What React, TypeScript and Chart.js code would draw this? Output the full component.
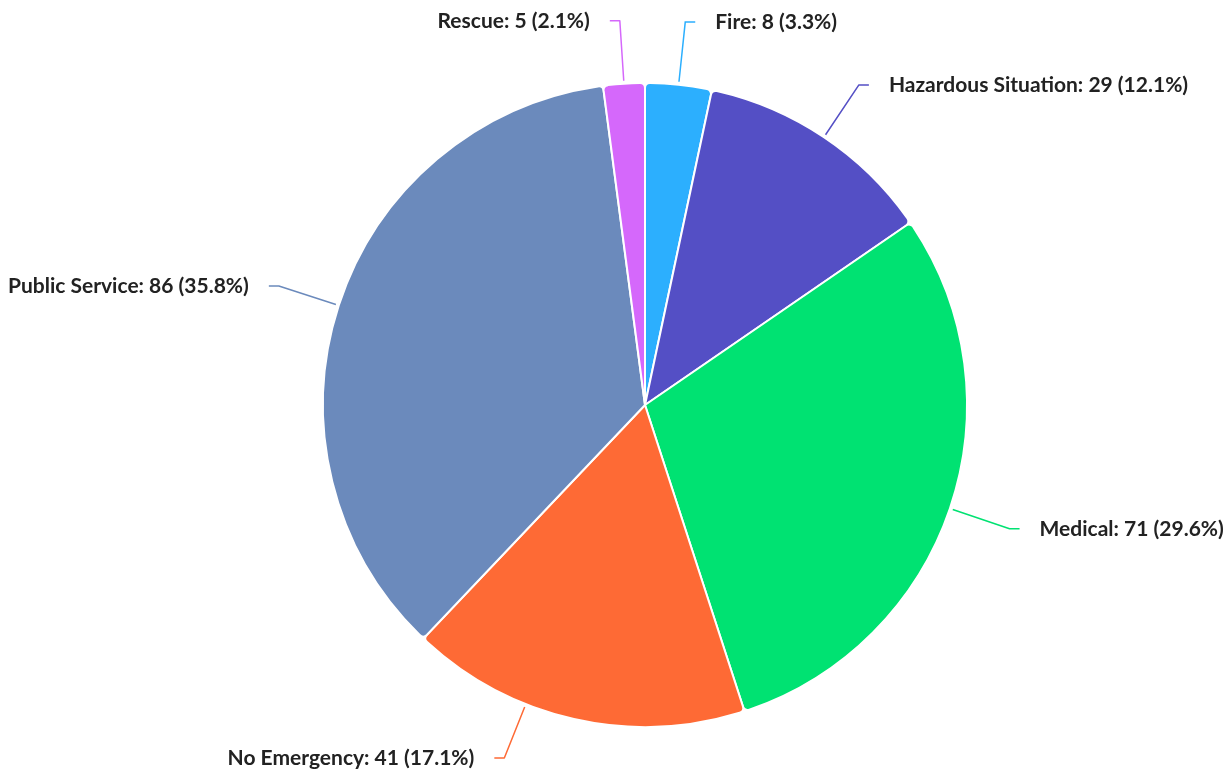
import React, { useEffect, useRef } from "react";
import { Chart, registerables } from "chart.js";

Chart.register(...registerables);

const categories = ["Fire", "Hazardous Situation", "Medical", "No Emergency", "Public Service", "Rescue"];
const values = [8, 29, 71, 41, 86, 5];
const colors = ["#2caffe", "#544fc5", "#00e272", "#fe6a35", "#6b8abc", "#d568fb"];

const W = 1220;
const H = 766;

const labelPlugin = {
  id: "pieLabels",
  afterDatasetsDraw(chart: any) {
    const ctx = chart.ctx as CanvasRenderingContext2D;
    const meta = chart.getDatasetMeta(0);
    const data = chart.data.datasets[0].data as number[];
    const total = data.reduce((a, b) => a + b, 0);
    ctx.save();
    meta.data.forEach((arc: any, i: number) => {
      const { x, y, startAngle, endAngle, outerRadius } = arc.getProps(
        ["x", "y", "startAngle", "endAngle", "outerRadius"],
        true
      );
      const mid = (startAngle + endAngle) / 2;
      const r1 = outerRadius + 3;
      let r2 = outerRadius + 63;
      let cos = Math.cos(mid);
      let sin = Math.sin(mid);
      let ly = y + sin * r2;
      const maxY = H - 16;
      const minY = 12;
      if (ly > maxY || ly < minY) {
        ly = Math.min(maxY, Math.max(minY, ly));
        r2 = r2 - 5;
        sin = (ly - y) / r2;
        const c = Math.sqrt(Math.max(0, 1 - sin * sin));
        cos = cos >= 0 ? c : -c;
      }
      const sx = x + cos * r1;
      const sy = y + sin * r1;
      const ex = x + cos * r2;
      const ey = y + sin * r2;
      const side = cos >= 0 ? 1 : -1;
      ctx.strokeStyle = colors[i];
      ctx.lineWidth = 1.5;
      ctx.beginPath();
      ctx.moveTo(sx, sy);
      ctx.lineTo(ex, ey);
      ctx.lineTo(ex + side * 10, ey);
      ctx.stroke();

      const pct = ((data[i] / total) * 100).toFixed(1);
      const text = `${chart.data.labels[i]}: ${data[i]} (${pct}%)`;
      ctx.font = "bold 21px Lato";
      ctx.textAlign = side > 0 ? "left" : "right";
      ctx.textBaseline = "middle";
      const tx = ex + side * 30;
      ctx.lineJoin = "round";
      ctx.lineWidth = 2;
      ctx.strokeStyle = "#ffffff";
      ctx.strokeText(text, tx, ey);
      ctx.fillStyle = "#222222";
      ctx.fillText(text, tx, ey);
    });
    ctx.restore();
  },
};

export default function App() {
  const ref = useRef<HTMLCanvasElement | null>(null);
  useEffect(() => {
    if (!ref.current) return;
    const chart = new Chart(ref.current, {
      type: "pie",
      data: {
        labels: categories,
        datasets: [
          {
            data: values,
            backgroundColor: colors,
            borderColor: "#ffffff",
            borderWidth: 2,
            borderRadius: { outerStart: 5, outerEnd: 5, innerStart: 0, innerEnd: 0 },
            hoverOffset: 0,
          },
        ],
      },
      options: {
        responsive: false,
        animation: false,
        events: [],
        layout: { padding: { left: 62, right: 8, top: 74, bottom: 46 } },
        plugins: {
          legend: { display: false },
          tooltip: { enabled: false },
        },
      },
      plugins: [labelPlugin],
    });
    return () => chart.destroy();
  }, []);
  return (
    <div style={{ position: "fixed", left: 8, top: 8, width: W, height: H }}>
      <canvas ref={ref} width={W} height={H} style={{ display: "block" }} />
    </div>
  );
}
